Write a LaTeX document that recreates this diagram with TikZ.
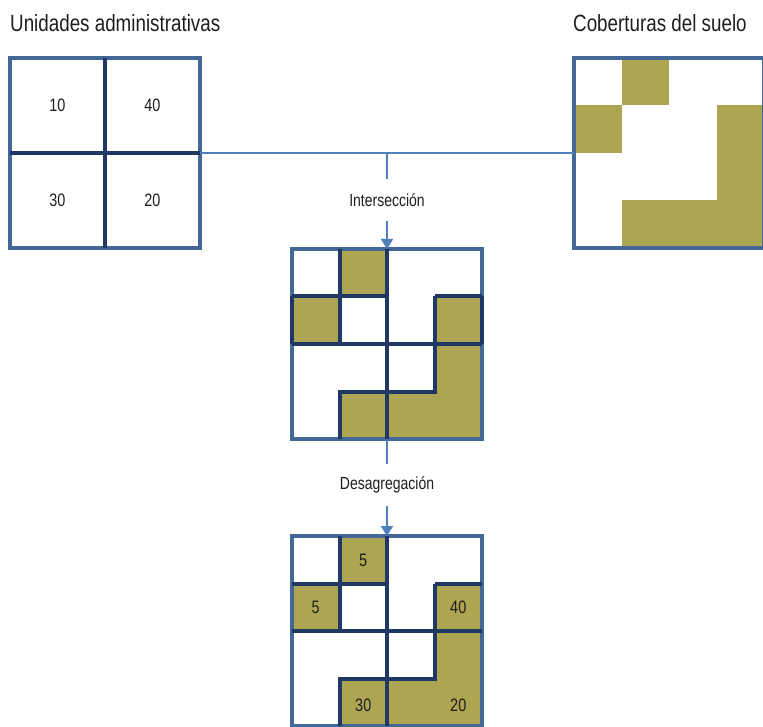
\documentclass[tikz,border=0pt]{standalone}
\usepackage{fontspec}
\setmainfont{Liberation Sans}[FakeStretch=0.8]
\usetikzlibrary{arrows.meta, calc}

\definecolor{frameblue}{RGB}{68,104,150}
\definecolor{gridnavy}{RGB}{31,56,100}
\definecolor{coverolive}{RGB}{173,165,82}
\definecolor{linkblue}{RGB}{79,129,189}
\definecolor{txtgrey}{RGB}{30,30,30}

% olive cells of the 4x4 land cover grid
\newcommand{\coverfill}{%
  \foreach \i/\j in {1/0,0/1,3/1,3/2,1/3,2/3,3/3}
    \fill[coverolive] (\i*47.5,\j*47.5) rectangle ++(47.5,47.5);}
% outlines of both layers once overlaid
\newcommand{\overlaylines}[1]{%
  \draw[navyline] (95,0) -- (95,190) (0,95) -- (190,95);
  \draw[navyline] (47.5,0) -- (47.5,95) (0,47.5) -- (95,47.5);
  \draw[navyline] (142.5,47.5) -- (190,47.5) (142.5,47.5) -- (142.5,142.5) -- (47.5,142.5) -- (47.5,190);
  \draw[#1] (0,47.5) -- (0,95) (190,47.5) -- (190,95);}

\begin{document}
\begin{tikzpicture}[x=1pt, y=-1pt, >=stealth,
    square/.style={draw=frameblue, line width=3.5pt, minimum size=190pt, inner sep=0pt, outer sep=0pt},
    navyline/.style={gridnavy, line width=4pt},
    link/.style={linkblue, line width=1.8pt},
    title/.style={font=\fontsize{23.5}{28}\selectfont, text=txtgrey, inner sep=0pt},
    num/.style={font=\fontsize{18}{21}\selectfont, text=txtgrey},
    oplabel/.style={font=\fontsize{17.5}{21}\selectfont, text=txtgrey, minimum height=42pt, inner sep=0pt}]
    \useasboundingbox (0,0) rectangle (763,727);
    \clip (0,0) rectangle (763,727);

    % Titles
    \node[title, anchor=base west] (uatitle) at (10,32) {Unidades administrativas};
    \node[title, anchor=base west] (cstitle) at (573,32) {Coberturas del suelo};

    % Administrative units
    \node[square] (ua) at (105,153) {};
    \draw[navyline] (ua.north) -- (ua.south) (ua.west) -- (ua.east);
    \node[num] (ua10) at (57.5,105.5) {10};
    \node[num] (ua40) at (152.5,105.5) {40};
    \node[num] (ua30) at (57.5,200.5) {30};
    \node[num] (ua20) at (152.5,200.5) {20};

    % Land cover
    \begin{scope}[shift={(574,58)}]
        \coverfill
    \end{scope}
    \node[square] (cs) at (669,153) {};

    % Intersection
    \begin{scope}[shift={(292,249)}]
        \coverfill
    \end{scope}
    \node[square] (inter) at (387,344) {};
    \begin{scope}[shift={(292,249)}]
        \overlaylines{navyline}
    \end{scope}

    % Disaggregation
    \begin{scope}[shift={(292,536)}]
        \coverfill
    \end{scope}
    \node[square] (desag) at (387,631) {};
    \begin{scope}[shift={(292,536)}]
        \overlaylines{draw=none}
    \end{scope}
    \node[num] (d5a) at (363.25,560) {5};
    \node[num] (d5b) at (315.75,607.5) {5};
    \node[num] (d40) at (458.25,607.5) {40};
    \node[num] (d30) at (363.25,705) {30};
    \node[num] (d20) at (458.25,705) {20};

    % Operations
    \node[oplabel] (opint) at (387,200) {Intersección};
    \node[oplabel] (opdes) at (387,485) {Desagregación};
    \coordinate (fork) at (ua.east -| inter.north);

    \draw[link] (ua.east) -- (cs.west);
    \draw[link] (fork) -- (opint);
    \draw[link, -{Triangle[width=12pt, length=10pt]}] (opint) -- (inter);
    \draw[link] (inter) -- (opdes);
    \draw[link, -{Triangle[width=12pt, length=10pt]}] (opdes) -- (desag);
\end{tikzpicture}
\end{document}
